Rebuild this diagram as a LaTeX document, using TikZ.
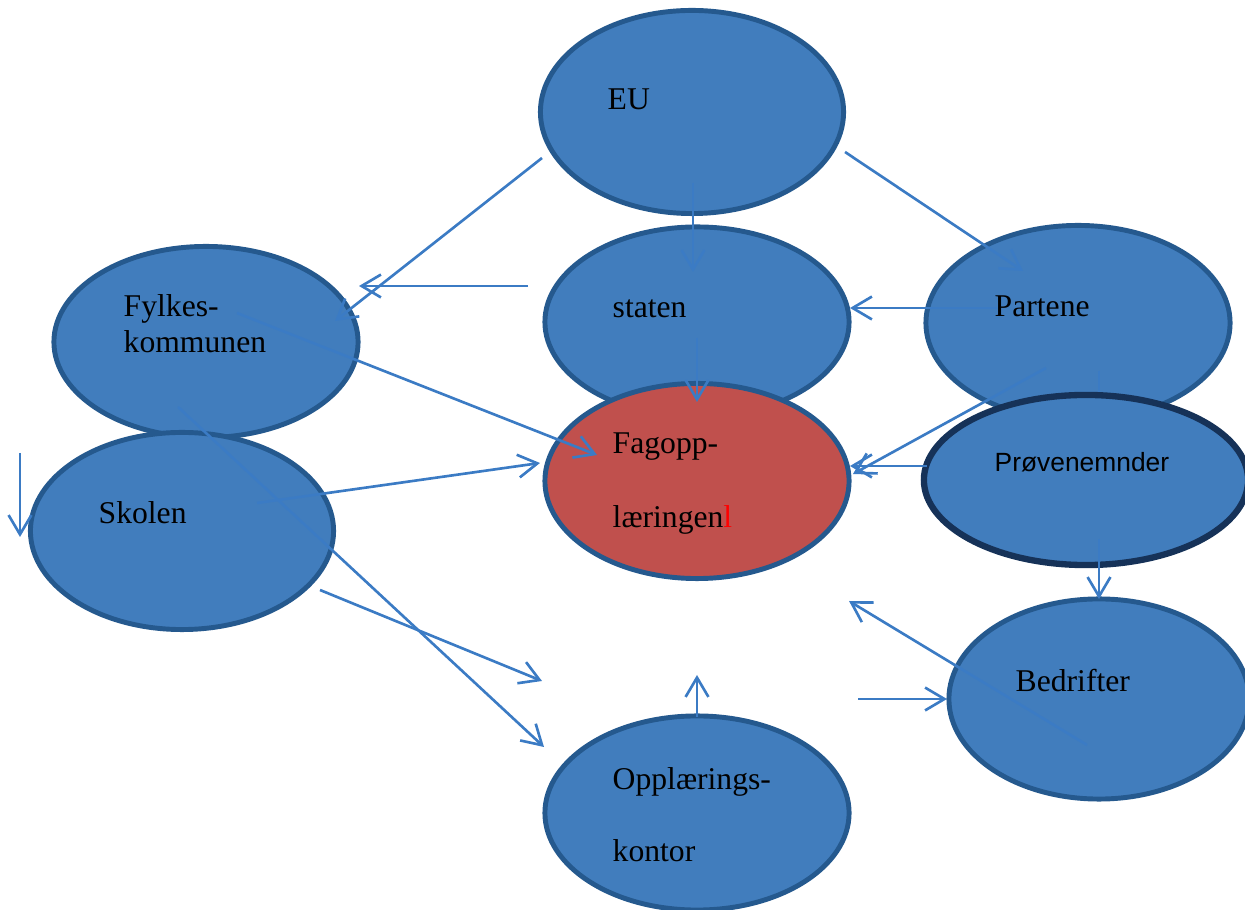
\documentclass[tikz,border=0pt]{standalone}
\usepackage{fontspec}
\setmainfont{Liberation Serif}
\newfontfamily\arialfont{Liberation Sans}
\usetikzlibrary{shapes.geometric,arrows.meta}

\definecolor{blobblue}{RGB}{65,125,189}
\definecolor{blobedge}{RGB}{37,89,142}
\definecolor{darkedge}{RGB}{22,50,88}
\definecolor{blobred}{RGB}{192,80,77}
\definecolor{linkblue}{RGB}{59,123,196}

\begin{document}
\begin{tikzpicture}[x=0.01cm, y=-0.01cm,
	blob/.style={ellipse, draw=blobedge, fill=blobblue, line width=1.4pt, inner sep=0pt},
	txt/.style={anchor=base west, inner sep=0pt, font=\fontsize{9}{11}\selectfont},
	link/.style={draw=linkblue, line width=0.75pt, -{Straight Barb[length=5.5pt, width=6.5pt]}}]
	\useasboundingbox (0,0) rectangle (1245,910);

	% ellipses
	\node[blob, minimum width=3.03cm, minimum height=2.03cm] (eu) at (692,112) {};
	\node[blob, minimum width=3.04cm, minimum height=1.90cm] (staten) at (697,322) {};
	\node[blob, minimum width=3.04cm, minimum height=1.95cm] (partene) at (1078,323) {};
	\node[blob, minimum width=3.04cm, minimum height=1.91cm] (fylke) at (206,342) {};
	\node[blob, fill=blobred, minimum width=3.04cm, minimum height=1.95cm] (fag) at (697,481) {};
	\draw[linkblue, line width=0.75pt] (1099,371) -- (1099,396);
	\node[blob, draw=darkedge, line width=1.8pt, minimum width=3.24cm, minimum height=1.70cm] (prove) at (1086,480) {};
	\node[blob, minimum width=3.03cm, minimum height=1.97cm] (skole) at (182,531) {};
	\node[blob, minimum width=3.0cm, minimum height=2.00cm] (bedrift) at (1099,699) {};
	\node[blob, minimum width=3.04cm, minimum height=1.94cm] (kontor) at (697,813) {};

	% texts
	\node[txt] (eu-t) at (607,110) {EU};
	\node[txt] (staten-t) at (612,318) {staten};
	\node[txt] (partene-t) at (994,317) {Partene};
	\node[txt] (fylke-t1) at (123,317) {Fylkes-};
	\node[txt] (fylke-t2) at (123,353) {kommunen};
	\node[txt] (fag-t1) at (612,454) {Fagopp-};
	\node[txt] (fag-t2) at (612,528) {læringen\textcolor{red}{l}};
	\node[txt, font=\arialfont\fontsize{7.5}{9}\selectfont] (prove-t) at (994,472) {Prøvenemnder};
	\node[txt] (skole-t) at (98,524) {Skolen};
	\node[txt] (bedrift-t) at (1015,692) {Bedrifter};
	\node[txt] (kontor-t1) at (612,790) {Opplærings-};
	\node[txt] (kontor-t2) at (612,862) {kontor};

	% arrow ends
	\coordinate (a1) at (542,158);  \coordinate (b1) at (335,321);
	\coordinate (a2) at (528,286);  \coordinate (b2) at (359,286);
	\coordinate (a3) at (693,183);  \coordinate (b3) at (693,272);
	\coordinate (a4) at (845,152);  \coordinate (b4) at (1023,271);
	\coordinate (a5) at (697,338);  \coordinate (b5) at (697,402);
	\coordinate (a6) at (997,308);  \coordinate (b6) at (850,308);
	\coordinate (a7) at (1046,368); \coordinate (b7) at (853,474);
	\coordinate (a8) at (927,466);  \coordinate (b8) at (850,466);
	\coordinate (a9) at (237,313);  \coordinate (b9) at (597,455);
	\coordinate (a10) at (257,503); \coordinate (b10) at (540,463);
	\coordinate (a11) at (178,407); \coordinate (b11) at (544,747);
	\coordinate (a12) at (320,590); \coordinate (b12) at (542,681);
	\coordinate (a13) at (20,453);  \coordinate (b13) at (20,537);
	\coordinate (a14) at (1099,539); \coordinate (b14) at (1099,599);
	\coordinate (a15) at (1087,745); \coordinate (b15) at (849,601);
	\coordinate (a16) at (858,699); \coordinate (b16) at (947,699);
	\coordinate (a17) at (697,717); \coordinate (b17) at (697,675);

	% arrows
	\foreach \i in {1,...,17}
		\draw[link] (a\i) -- (b\i);
\end{tikzpicture}
\end{document}
